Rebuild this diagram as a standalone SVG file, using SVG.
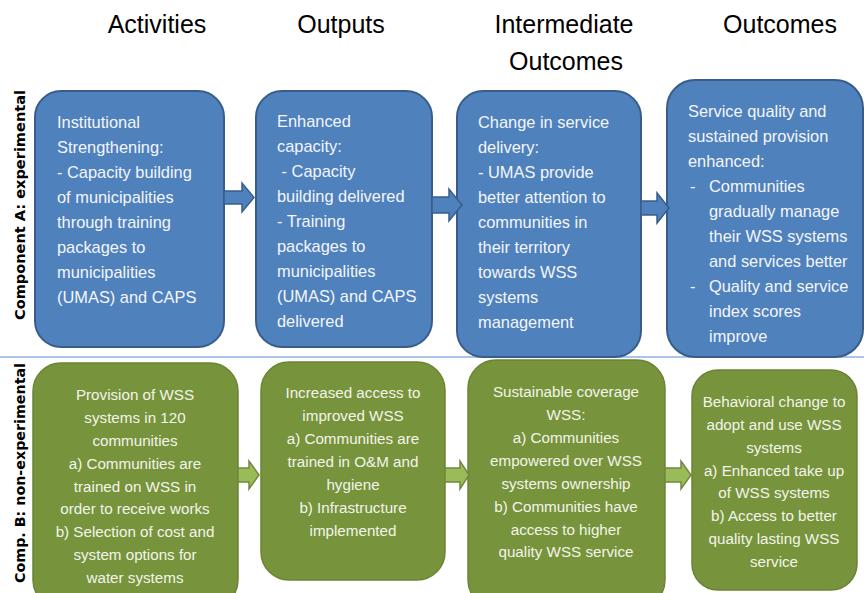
<svg xmlns="http://www.w3.org/2000/svg" width="864" height="593" viewBox="0 0 864 593">
<style>
.hdr{font-family:"Liberation Sans",Arial,sans-serif;font-size:25px;fill:#000;text-anchor:middle}
.side{font-family:"DejaVu Sans",Verdana,sans-serif;font-size:13.5px;font-weight:bold;fill:#000;text-anchor:middle}
.bbox{fill:#4f81bd;stroke:#385d8a;stroke-width:2}
.gbox{fill:#77933c;stroke:#6b8436;stroke-width:1.5}
.bt{font-family:"Liberation Sans",Arial,sans-serif;font-size:16.4px;fill:#f4f6fa}
.gt{font-family:"Liberation Sans",Arial,sans-serif;font-size:15.2px;fill:#f2f5ea;text-anchor:middle}
.barr{fill:#4f81bd;stroke:#385d8a;stroke-width:1.5}
.garr{fill:#9bbb59;stroke:#71893f;stroke-width:1.5}
</style>
<rect width="864" height="593" fill="#fff"/>
<g id="headers">
<text class="hdr" x="157" y="33">Activities</text>
<text class="hdr" x="341" y="33">Outputs</text>
<text class="hdr" x="564" y="33">Intermediate</text>
<text class="hdr" x="566" y="70">Outcomes</text>
<text class="hdr" x="780" y="33">Outcomes</text>
</g>
<g id="side-labels">
<text class="side" transform="translate(25,205) rotate(-90)" textLength="230" lengthAdjust="spacingAndGlyphs">Component A: experimental</text>
<text class="side" transform="translate(25,473) rotate(-90)" textLength="220" lengthAdjust="spacingAndGlyphs">Comp. B: non-experimental</text>
</g>
<line id="divider" x1="0" y1="357" x2="864" y2="357" stroke="#8db3e2" stroke-width="1.5"/>
<g id="a1">
<rect class="bbox" x="35" y="91" width="189" height="256" rx="26"/>
<text class="bt" x="57" y="128">Institutional</text>
<text class="bt" x="57" y="153">Strengthening:</text>
<text class="bt" x="57" y="178">- Capacity building</text>
<text class="bt" x="57" y="203">of municipalities</text>
<text class="bt" x="57" y="228">through training</text>
<text class="bt" x="57" y="253">packages to</text>
<text class="bt" x="57" y="278">municipalities</text>
<text class="bt" x="57" y="303">(UMAS) and CAPS</text>
</g>
<g id="a2">
<rect class="bbox" x="256" y="91" width="176" height="256" rx="26"/>
<text class="bt" x="277" y="127">Enhanced</text>
<text class="bt" x="277" y="152">capacity:</text>
<text class="bt" x="277" y="177" xml:space="preserve"> - Capacity</text>
<text class="bt" x="277" y="202">building delivered</text>
<text class="bt" x="277" y="227">- Training</text>
<text class="bt" x="277" y="252">packages to</text>
<text class="bt" x="277" y="277">municipalities</text>
<text class="bt" x="277" y="302">(UMAS) and CAPS</text>
<text class="bt" x="277" y="327">delivered</text>
</g>
<g id="a3">
<rect class="bbox" x="457" y="91" width="184" height="266" rx="26"/>
<text class="bt" x="478" y="128">Change in service</text>
<text class="bt" x="478" y="153">delivery:</text>
<text class="bt" x="478" y="178">- UMAS provide</text>
<text class="bt" x="478" y="203">better attention to</text>
<text class="bt" x="478" y="228">communities in</text>
<text class="bt" x="478" y="253">their territory</text>
<text class="bt" x="478" y="278">towards WSS</text>
<text class="bt" x="478" y="303">systems</text>
<text class="bt" x="478" y="328">management</text>
</g>
<g id="a4">
<rect class="bbox" x="667" y="80" width="196" height="277" rx="28"/>
<text class="bt" x="688" y="117">Service quality and</text>
<text class="bt" x="688" y="142">sustained provision</text>
<text class="bt" x="688" y="167">enhanced:</text>
<text class="bt" x="690" y="192">-</text>
<text class="bt" x="709" y="192">Communities</text>
<text class="bt" x="709" y="217">gradually manage</text>
<text class="bt" x="709" y="242">their WSS systems</text>
<text class="bt" x="709" y="267">and services better</text>
<text class="bt" x="690" y="292">-</text>
<text class="bt" x="709" y="292">Quality and service</text>
<text class="bt" x="709" y="317">index scores</text>
<text class="bt" x="709" y="342">improve</text>
</g>
<g id="b1">
<rect class="gbox" x="33" y="363" width="205" height="245" rx="28"/>
<text class="gt" x="135" y="400">Provision of WSS</text>
<text class="gt" x="135" y="423">systems in 120</text>
<text class="gt" x="135" y="446">communities</text>
<text class="gt" x="135" y="469">a) Communities are</text>
<text class="gt" x="135" y="492">trained on WSS in</text>
<text class="gt" x="135" y="514">order to receive works</text>
<text class="gt" x="135" y="537">b) Selection of cost and</text>
<text class="gt" x="135" y="560">system options for</text>
<text class="gt" x="135" y="583">water systems</text>
</g>
<g id="b2">
<rect class="gbox" x="261" y="362" width="184" height="218" rx="28"/>
<text class="gt" x="353" y="398">Increased access to</text>
<text class="gt" x="353" y="421">improved WSS</text>
<text class="gt" x="353" y="444">a) Communities are</text>
<text class="gt" x="353" y="467">trained in O&amp;M and</text>
<text class="gt" x="353" y="490">hygiene</text>
<text class="gt" x="353" y="513">b) Infrastructure</text>
<text class="gt" x="353" y="536">implemented</text>
</g>
<g id="b3">
<rect class="gbox" x="468" y="360" width="197" height="248" rx="28"/>
<text class="gt" x="566" y="397">Sustainable coverage</text>
<text class="gt" x="566" y="420">WSS:</text>
<text class="gt" x="566" y="443">a) Communities</text>
<text class="gt" x="566" y="466">empowered over WSS</text>
<text class="gt" x="566" y="489">systems ownership</text>
<text class="gt" x="566" y="512">b) Communities have</text>
<text class="gt" x="566" y="535">access to higher</text>
<text class="gt" x="566" y="557">quality WSS service</text>
</g>
<g id="b4">
<rect class="gbox" x="692" y="370" width="165" height="220" rx="26"/>
<text class="gt" x="774" y="407">Behavioral change to</text>
<text class="gt" x="774" y="430">adopt and use WSS</text>
<text class="gt" x="774" y="453">systems</text>
<text class="gt" x="774" y="476">a) Enhanced take up</text>
<text class="gt" x="774" y="498">of WSS systems</text>
<text class="gt" x="774" y="521">b) Access to better</text>
<text class="gt" x="774" y="544">quality lasting WSS</text>
<text class="gt" x="774" y="567">service</text>
</g>
<g id="connectors">
<polygon class="barr" points="224,191 242,191 242,183 254,197.5 242,212 242,204 224,204"/>
<polygon class="barr" points="432,197 449,197 449,189 462,205 449,221 449,213 432,213"/>
<polygon class="barr" points="641,201 657,201 657,193 669,208 657,223 657,215 641,215"/>
<polygon class="garr" points="238,468 249,468 249,461 259,475 249,489 249,482 238,482"/>
<polygon class="garr" points="445,468 460,468 460,461 469,475 460,489 460,482 445,482"/>
<polygon class="garr" points="665,468 681,468 681,461 691,475 681,489 681,482 665,482"/>
</g>
</svg>
